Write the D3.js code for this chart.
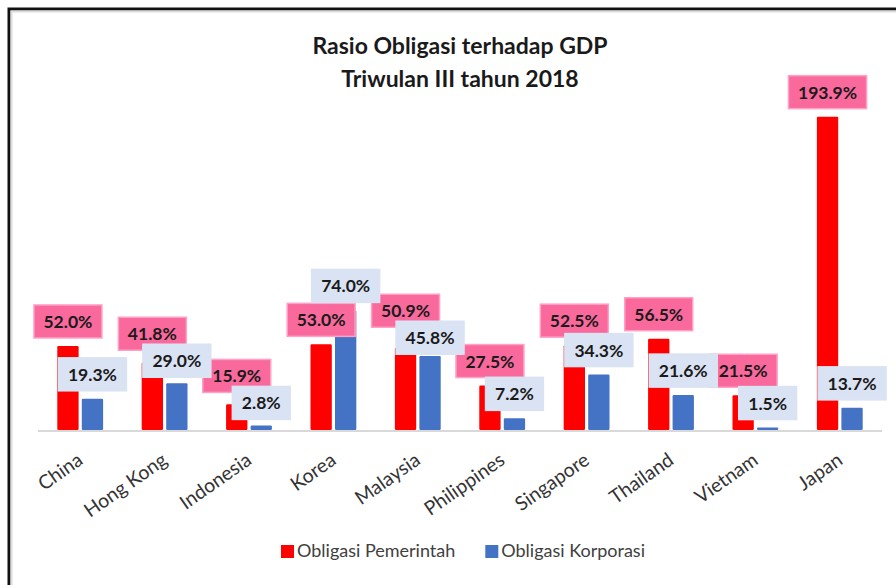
<!DOCTYPE html>
<html>
<head>
<meta charset="utf-8">
<script src="https://cdn.jsdelivr.net/npm/d3@7"></script>
<style>
  body { margin: 0; background: #fff; }
  svg { display: block; }
</style>
</head>
<body>
<svg id="drawing_region"></svg>
<script>
// data
const categories = ['China', 'Hong Kong', 'Indonesia', 'Korea', 'Malaysia', 'Philippines', 'Singapore', 'Thailand', 'Vietnam', 'Japan']
const govBonds = [52.0, 41.8, 15.9, 53.0, 50.9, 27.5, 52.5, 56.5, 21.5, 193.9]
const corpBonds = [19.3, 29.0, 2.8, 74.0, 45.8, 7.2, 34.3, 21.6, 1.5, 13.7]
const seriesNames = ['Obligasi Pemerintah', 'Obligasi Korporasi']
const titleLines = ['Rasio Obligasi terhadap GDP', 'Triwulan III tahun 2018']

class GroupedBarChart {
    constructor(config) {
        this.config = {
            parent: config.parent,
            width: config.width || 896,
            height: config.height || 585,
            plot: config.plot
        }
        this.init()
    }

    init() {
        let self = this
        const p = self.config.plot

        self.svg = d3.select(self.config.parent)
            .attr('width', self.config.width)
            .attr('height', self.config.height)
            .style('font-family', 'Lato, "Open Sans", sans-serif')

        self.x0 = d3.scaleBand().domain(categories).range([p.left, p.right])
            .paddingInner(0.457).paddingOuter(0.2285)
        self.x1 = d3.scaleBand().domain([0, 1]).range([0, self.x0.bandwidth()])
            .paddingInner(0.13)
        self.y = d3.scaleLinear().domain([0, 200]).range([p.bottom, p.bottom - 200 * 1.616])

        self.colors = ['#FF0000', '#4472C4']
        self.fmt = v => d3.format('.1f')(v) + '%'
    }

    update() {
        this.render()
    }

    render() {
        let self = this
        const svg = self.svg
        const p = self.config.plot

        // frame of the screenshot (top and left edges)
        svg.append('path')
            .attr('d', 'M9,585 V9 H896')
            .attr('fill', 'none').attr('stroke', '#111').attr('stroke-width', 3)
        svg.append('path')
            .attr('d', 'M11.5,585 V11.5 H896')
            .attr('fill', 'none').attr('stroke', '#dcdcdc').attr('stroke-width', 2)

        // title
        svg.append('g').selectAll('text').data(titleLines).enter()
            .append('text')
            .attr('x', 460)
            .attr('y', (d, i) => 54 + i * 32.5)
            .attr('text-anchor', 'middle')
            .attr('font-size', 23)
            .attr('font-weight', 'bold')
            .attr('fill', '#1a1a1a')
            .text(d => d)

        // baseline
        svg.append('line')
            .attr('x1', p.left).attr('x2', p.right)
            .attr('y1', p.bottom + 1).attr('y2', p.bottom + 1)
            .attr('stroke', '#d9d9d9').attr('stroke-width', 2)

        const rows = categories.map((c, i) => ({ cat: c, vals: [govBonds[i], corpBonds[i]] }))

        const groups = svg.append('g').selectAll('g').data(rows).enter()
            .append('g')
            .attr('transform', d => `translate(${self.x0(d.cat)},0)`)

        groups.selectAll('rect').data(d => d.vals).enter()
            .append('rect')
            .attr('x', (d, i) => self.x1(i))
            .attr('width', self.x1.bandwidth())
            .attr('y', d => self.y(d))
            .attr('height', d => self.y(0) - self.y(d))
            .attr('rx', 1.2)
            .attr('fill', (d, i) => self.colors[i])

        // category labels
        svg.append('g').selectAll('text').data(categories).enter()
            .append('text')
            .attr('transform', d => `translate(${self.x0(d) + self.x0.bandwidth() / 2 + 4},463) rotate(-35)`)
            .attr('text-anchor', 'end')
            .attr('font-size', 19.5)
            .attr('fill', '#333')
            .text(d => d)

        // data label boxes, nudged apart when they pile up
        const boxH = 33, gap = 8, maxOverlap = 6
        const labels = []
        rows.forEach(r => {
            const cx = self.x0(r.cat)
            let tops = r.vals.map(v => self.y(v) - gap - boxH)
            const overlap = tops[0] + boxH - tops[1]
            if (tops[1] > tops[0] && overlap > maxOverlap) {
                const ex = overlap - maxOverlap
                tops[0] -= ex * 2 / 3
                tops[1] += ex / 3
            }
            r.vals.forEach((v, i) => labels.push({
                s: i, v: v, top: tops[i],
                cx: cx + self.x1(i) + self.x1.bandwidth() / 2
            }))
        })

        const lab = svg.append('g').selectAll('g')
            .data(labels.filter(d => d.s === 0).concat(labels.filter(d => d.s === 1)))
            .enter().append('g')

        const txt = lab.append('text')
            .attr('x', d => d.cx)
            .attr('y', d => d.top + boxH / 2 + 6.5)
            .attr('text-anchor', 'middle')
            .attr('font-size', 17.5)
            .attr('font-weight', 'bold')
            .attr('fill', '#1a1a1a')
            .text(d => self.fmt(d.v))

        txt.each(function (d) { d.w = this.getComputedTextLength() + 19 })

        lab.insert('rect', 'text')
            .attr('x', d => d.cx - d.w / 2)
            .attr('y', d => d.top)
            .attr('width', d => d.w)
            .attr('height', boxH)
            .attr('fill', d => d.s === 0 ? '#F9699C' : '#DAE3F3')
            .attr('stroke', d => d.s === 0 ? '#FFA0C6' : '#DAE3F3')
            .attr('stroke-width', 1.5)

        // legend
        const leg = svg.append('g')
        const items = leg.selectAll('g').data(seriesNames).enter().append('g')
        items.append('rect')
            .attr('width', 13).attr('height', 13)
            .attr('y', -12)
            .attr('fill', (d, i) => self.colors[i])
        items.append('text')
            .attr('x', 16)
            .attr('font-size', 18)
            .attr('fill', '#404040')
            .text(d => d)
        let xs = 0
        items.each(function () {
            const w = this.getBBox().width
            d3.select(this).attr('transform', `translate(${xs},557)`)
            xs += w + 30
        })
        leg.attr('transform', `translate(${463 - (xs - 30) / 2},0)`)
    }
}

const chart = new GroupedBarChart({
    parent: '#drawing_region',
    width: 896,
    height: 585,
    plot: { left: 38, right: 882, bottom: 430 }
})
chart.update()
</script>
</body>
</html>
